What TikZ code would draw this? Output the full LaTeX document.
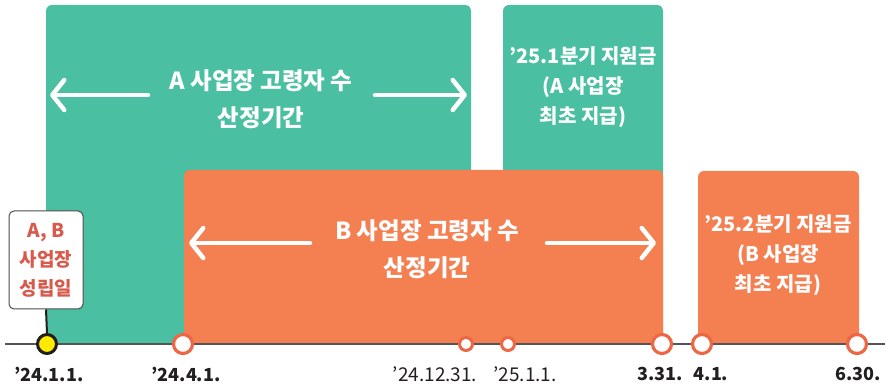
\documentclass[tikz,border=0pt]{standalone}
\usepackage{fontspec}
\setmainfont{Noto Sans CJK KR}
\usetikzlibrary{arrows.meta}
\definecolor{tealA}{HTML}{4ABFA1}
\definecolor{orangeB}{HTML}{F47F51}
\definecolor{ringC}{HTML}{EE6744}
\definecolor{redT}{HTML}{D85A4C}
\definecolor{darkT}{HTML}{231F20}
\definecolor{lineG}{HTML}{555555}
\definecolor{yelC}{HTML}{FFEA00}
\begin{document}
\begin{tikzpicture}[x=1pt,y=-1pt,
  boxtext/.style={text=white,font=\fontsize{23.5}{37}\selectfont\bfseries,align=center},
  paytext/.style={text=white,font=\fontsize{20}{30}\selectfont\bfseries,align=center},
  datebold/.style={text=darkT,font=\fontsize{18}{20}\selectfont\bfseries,inner sep=0pt},
  datereg/.style={text=darkT,font=\fontsize{19}{20}\selectfont,inner sep=0pt},
  bigdot/.style={circle,draw=ringC,fill=white,line width=3.2pt,minimum size=19pt,inner sep=0pt},
  smalldot/.style={circle,draw=ringC,fill=white,line width=3pt,minimum size=13pt,inner sep=0pt},
  wharrow/.style={draw=white,line width=4.5pt,line cap=round,-{Straight Barb[length=12pt,width=30pt,round]}},
  calloutbox/.style={draw=darkT!80,line width=1pt,rounded corners=5pt,fill=white,minimum width=74pt,minimum height=98pt,text=redT,font=\fontsize{19}{29}\selectfont\bfseries,align=center,inner sep=0pt}
]
\useasboundingbox (0,0) rectangle (889,387);
% bars
\begin{scope}
  \clip (0,0) rectangle (889,344);
  \fill[tealA,rounded corners=6pt] (46,5) rectangle (471,360);
  \fill[tealA,rounded corners=6pt] (503,5) rectangle (663,360);
  \fill[orangeB,rounded corners=6pt] (184,170) rectangle (663,360);
  \fill[orangeB,rounded corners=6pt] (698,171) rectangle (859,360);
\end{scope}
% timeline
\coordinate (tl0) at (5,344);
\coordinate (tl1) at (885,344);
\draw[lineG,line width=1.2pt] (tl0) -- (tl1);
% period texts and arrows
\node[boxtext] (atext) at (261,99) {A 사업장 고령자 수\\산정기간};
\coordinate (aL1) at (148,95); \coordinate (aL2) at (50,95);
\coordinate (aR1) at (375,95); \coordinate (aR2) at (467,95);
\draw[wharrow] (aL1) -- (aL2);
\draw[wharrow] (aR1) -- (aR2);
\node[boxtext] (btext) at (427,249) {B 사업장 고령자 수\\산정기간};
\coordinate (bL1) at (310,243); \coordinate (bL2) at (189,243);
\coordinate (bR1) at (547,243); \coordinate (bR2) at (656,243);
\draw[wharrow] (bL1) -- (bL2);
\draw[wharrow] (bR1) -- (bR2);
\node[paytext] (pay1) at (583,87) {’25.1분기 지원금\\(A 사업장\\최초 지급)};
\node[paytext] (pay2) at (778,255) {’25.2분기 지원금\\(B 사업장\\최초 지급)};
% callout
\node[calloutbox] (callout) at (46,260) {A, B\\사업장\\성립일};
\node[circle,draw=darkT,fill=yelC,line width=3pt,minimum size=19pt,inner sep=0pt] (d0) at (47,344) {};
\draw[darkT,line width=2pt] (callout.south) -- (d0.north);
% dots
\node[bigdot] (d1) at (183,344) {};
\node[smalldot] (d2) at (466,344) {};
\node[smalldot] (d3) at (508,344) {};
\node[bigdot] (d4) at (662,344) {};
\node[bigdot] (d5) at (702,344) {};
\node[bigdot] (d6) at (857,344) {};
% date labels
\node[datebold] (l0) at (49,374) {’24.1.1.};
\node[datebold] (l1) at (186,374) {’24.4.1.};
\node[datereg] (l2) at (435,374) {’24.12.31.};
\node[datereg] (l3) at (525,374) {’25.1.1.};
\node[datebold] (l4) at (660,374) {3.31.};
\node[datebold] (l5) at (711,374) {4.1.};
\node[datebold] (l6) at (858,374) {6.30.};
\end{tikzpicture}
\end{document}
